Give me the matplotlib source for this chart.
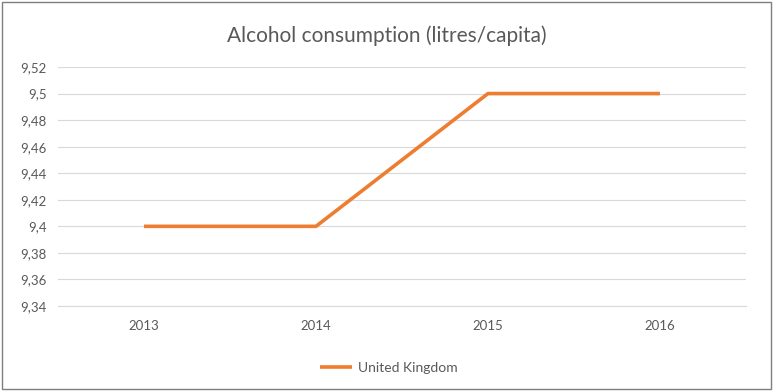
import matplotlib
matplotlib.use("Agg")
import matplotlib.pyplot as plt
import matplotlib.ticker as mticker
from matplotlib.patches import Rectangle

years = ["2013", "2014", "2015", "2016"]
uk_values = [9.40, 9.40, 9.50, 9.50]
series_name = "United Kingdom"
title = "Alcohol consumption (litres/capita)"

plt.rcParams["font.family"] = ["Lato", "DejaVu Sans"]


def excel_fmt(v, _):
    s = f"{v:.2f}".rstrip("0").rstrip(".")
    return s.replace(".", ",")


def main():
    fig = plt.figure(figsize=(7.73, 3.91), dpi=100)
    ax = fig.add_axes([0.075, 0.2174, 0.890, 0.6112])

    x = range(len(years))
    ax.plot(x, uk_values, color="#ED7D31", linewidth=2.6,
            solid_capstyle="butt", label=series_name, zorder=3)

    ax.set_xlim(-0.5, len(years) - 0.5)
    ax.set_ylim(9.34, 9.52)
    ax.yaxis.set_major_locator(mticker.MultipleLocator(0.02))
    ax.yaxis.set_major_formatter(mticker.FuncFormatter(excel_fmt))
    ax.set_xticks(list(x))
    ax.set_xticklabels(years)

    ax.grid(True, axis="y", color="#D9D9D9", linewidth=0.8)
    ax.set_axisbelow(True)
    for side in ["top", "left", "right"]:
        ax.spines[side].set_visible(False)
    ax.spines["bottom"].set_color("#D9D9D9")
    ax.spines["bottom"].set_linewidth(0.8)

    ax.tick_params(axis="x", length=0, labelsize=9.5, colors="#595959", pad=10)
    ax.tick_params(axis="y", length=0, labelsize=9.5, colors="#595959", pad=8)

    fig.suptitle(title, x=0.5, y=0.935, fontsize=15, color="#595959")

    ax.legend(loc="center", bbox_to_anchor=(0.481, -0.26), frameon=False,
              fontsize=10, labelcolor="#595959", handlelength=2.3,
              handletextpad=0.4)

    fig.patches.append(Rectangle((0.003, 0.004), 0.994, 0.99, transform=fig.transFigure,
                                 fill=False, edgecolor="#7F7F7F", linewidth=1))

    fig.savefig("out.png", dpi=100)


if __name__ == "__main__":
    main()
